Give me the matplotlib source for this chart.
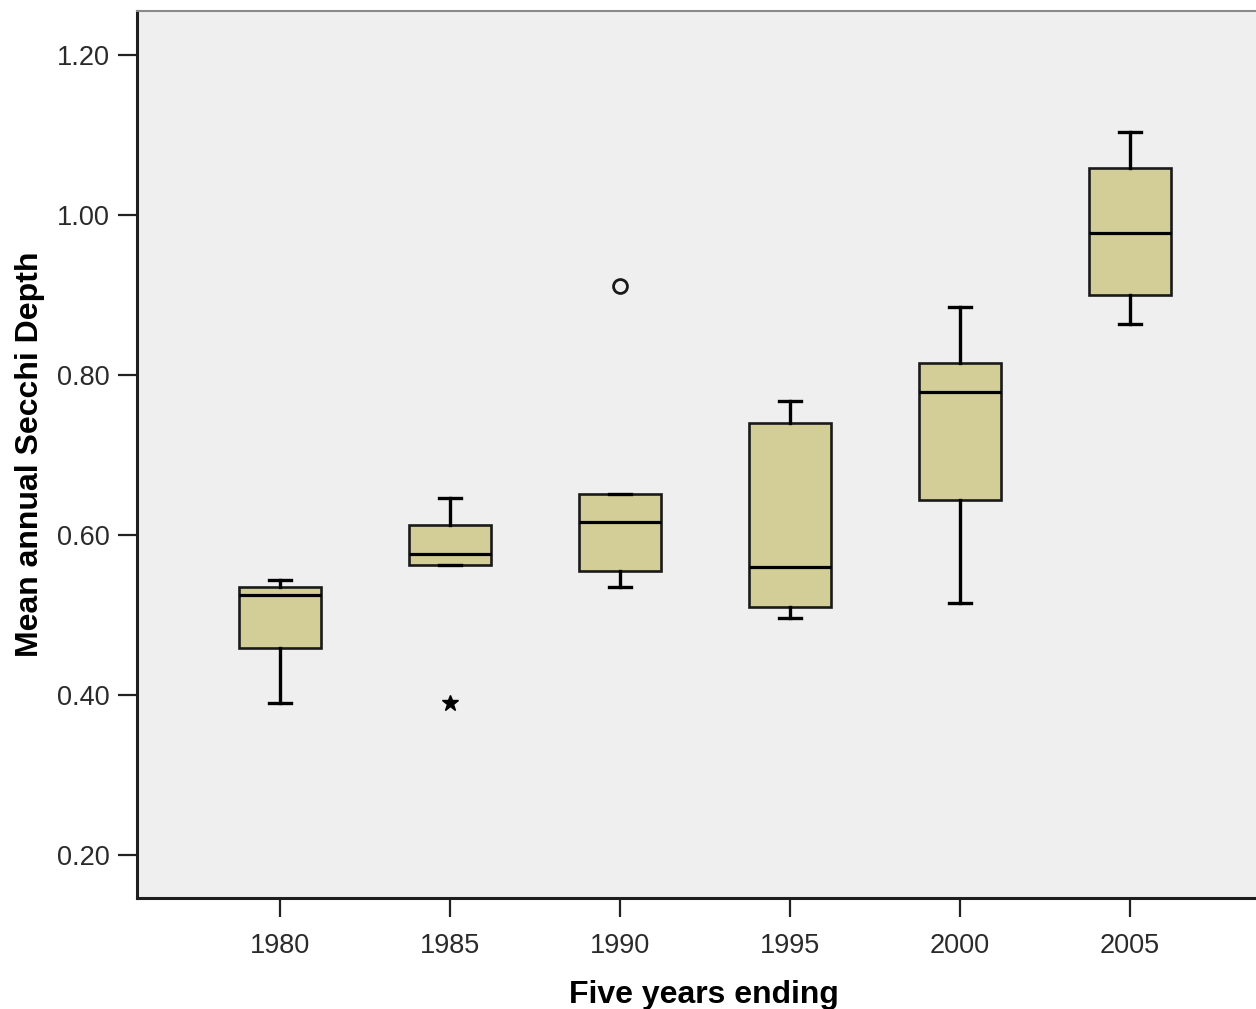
import matplotlib
matplotlib.use("Agg")
import matplotlib.pyplot as plt

# Five-year periods and the box summary of mean annual Secchi depth
periods = ["1980", "1985", "1990", "1995", "2000", "2005"]
whisker_low = [0.390, 0.563, 0.535, 0.496, 0.515, 0.864]
q1 = [0.458, 0.563, 0.555, 0.510, 0.644, 0.900]
median = [0.525, 0.576, 0.616, 0.560, 0.779, 0.977]
q3 = [0.535, 0.612, 0.651, 0.740, 0.815, 1.059]
whisker_high = [0.544, 0.646, 0.651, 0.768, 0.885, 1.104]

# Outlying years: (period index, value)
outlier_circle = [(2, 0.911)]
outlier_extreme = [(1, 0.390)]

y_ticks = [0.20, 0.40, 0.60, 0.80, 1.00, 1.20]

plt.rcParams["font.family"] = ["Liberation Sans", "DejaVu Sans"]

fig = plt.figure(figsize=(12.56, 10.09), dpi=100)
ax = fig.add_axes([0.109, 0.110, 0.891, 0.879])
ax.set_facecolor("#efefef")

stats = []
for i, name in enumerate(periods):
    stats.append(dict(label=name, whislo=whisker_low[i], q1=q1[i], med=median[i],
                      q3=q3[i], whishi=whisker_high[i], fliers=[]))

positions = list(range(len(periods)))
ax.bxp(stats, positions=positions, widths=0.48, patch_artist=True,
       showfliers=False, manage_ticks=False,
       boxprops=dict(facecolor="#d3ce97", edgecolor="#1a1a1a", linewidth=1.9),
       medianprops=dict(color="black", linewidth=2.3),
       whiskerprops=dict(color="black", linewidth=2.4),
       capprops=dict(color="black", linewidth=2.4),
       capwidths=0.125)

for i, v in outlier_circle:
    ax.plot(i, v, marker="o", markersize=10, markerfacecolor="none",
            markeredgecolor="#1a1a1a", markeredgewidth=2.0, linestyle="none")
for i, v in outlier_extreme:
    ax.plot(i, v, marker="*", markersize=12, color="black", linestyle="none")

ax.set_xlim(-0.841, 5.741)
ax.set_ylim(0.146, 1.255)
ax.set_xticks(positions)
ax.set_xticklabels(periods)
ax.set_yticks(y_ticks)
ax.set_yticklabels([f"{t:.2f}" for t in y_ticks])

ax.tick_params(axis="both", length=13.5, width=1.6, color="#222222",
               labelsize=19.5, labelcolor="#2a2a2a", pad=6)
ax.tick_params(axis="x", pad=12)

for side in ("left", "bottom"):
    ax.spines[side].set_linewidth(2.2)
    ax.spines[side].set_color("#1e1e1e")
ax.spines["top"].set_linewidth(1.5)
ax.spines["top"].set_color("#8a8a8a")
ax.spines["right"].set_visible(False)

ax.set_xlabel("Five years ending", fontsize=23, fontweight="bold")
ax.set_ylabel("Mean annual Secchi Depth", fontsize=23, fontweight="bold")
ax.xaxis.set_label_coords(0.507, -0.092)
ax.yaxis.set_label_coords(-0.082, 0.5)

fig.savefig("out.png", dpi=100)
